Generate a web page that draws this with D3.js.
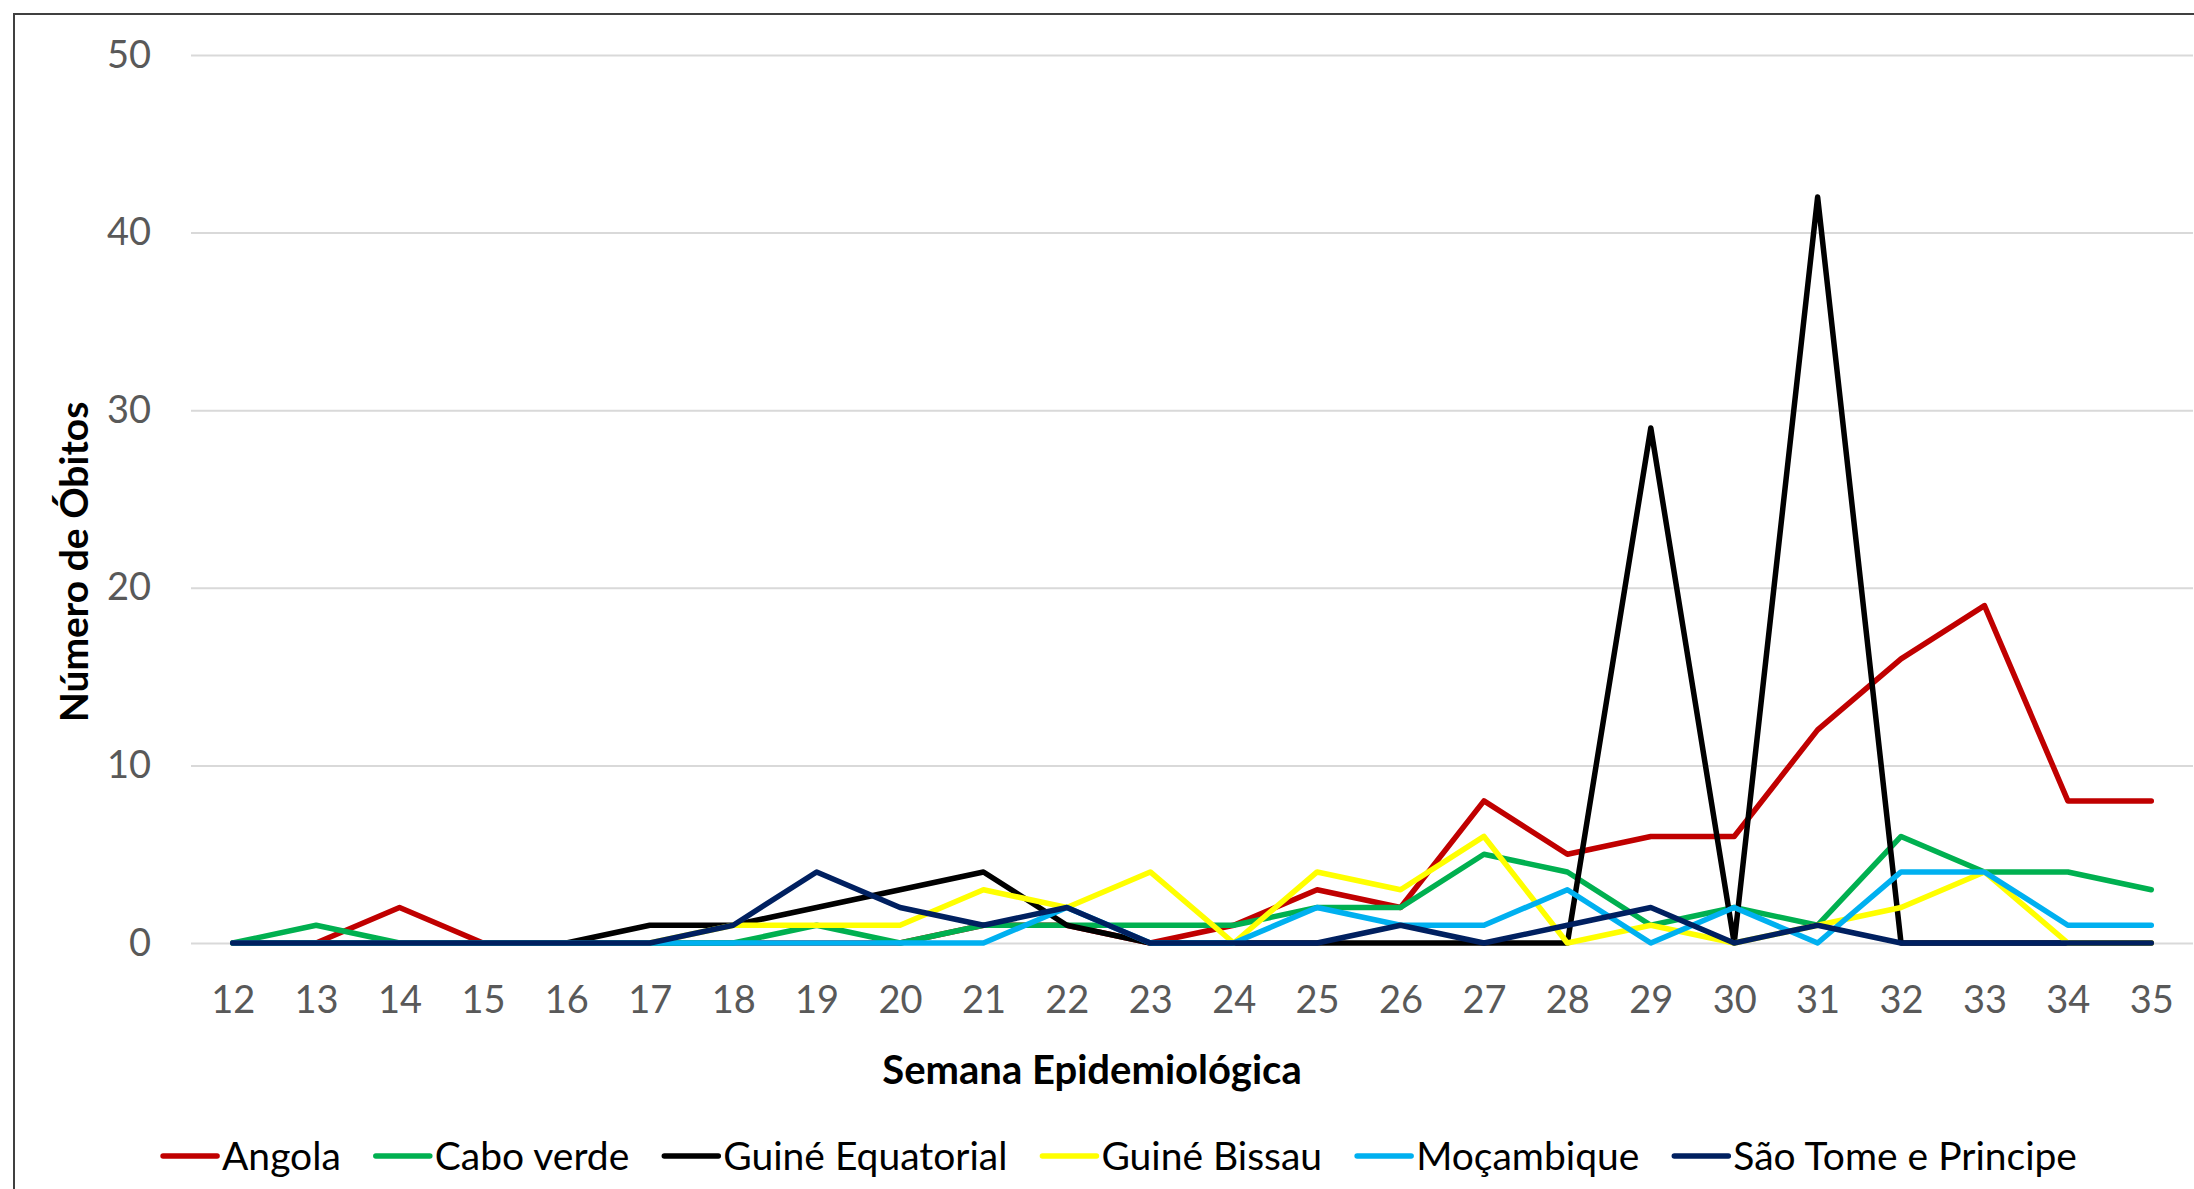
<!DOCTYPE html>
<html>
<head>
<meta charset="utf-8">
<script src="https://cdn.jsdelivr.net/npm/d3@7"></script>
<style>
  body { margin: 0; background: #fff; }
  svg, svg text { font-family: Lato, "Open Sans", sans-serif; }
</style>
</head>
<body>
<div id="chart"></div>
<script>
// data
const weeks = ['12','13','14','15','16','17','18','19','20','21','22','23','24','25','26','27','28','29','30','31','32','33','34','35'];
const angola          = [0,0,2,0,0,0,0,0,0,1,1,0,1,3,2,8,5,6,6,12,16,19,8,8];
const caboVerde       = [0,1,0,0,0,0,0,1,0,1,1,1,1,2,2,5,4,1,2,1,6,4,4,3];
const guineEquatorial = [0,0,0,0,0,1,1,2,3,4,1,0,0,0,0,0,0,29,0,42,0,0,0,0];
const guineBissau     = [0,0,0,0,0,0,1,1,1,3,2,4,0,4,3,6,0,1,0,1,2,4,0,0];
const mocambique      = [0,0,0,0,0,0,0,0,0,0,2,0,0,2,1,1,3,0,2,0,4,4,1,1];
const saoTome         = [0,0,0,0,0,0,1,4,2,1,2,0,0,0,1,0,1,2,0,1,0,0,0,0];
const seriesNames = ['Angola','Cabo verde','Guiné Equatorial','Guiné Bissau','Moçambique','São Tome e Principe'];
const seriesValues = [angola, caboVerde, guineEquatorial, guineBissau, mocambique, saoTome];
const colors = ['#C00000','#00B050','#000000','#FFFF00','#00B0F0','#002060'];
const yTicks = [0,10,20,30,40,50];

class LineChart {
    width; height; margin;
    svg; plot;
    scaleX; scaleY;

    constructor(container, width, height, margin){
        this.width = width;
        this.height = height;
        this.margin = margin; // [top, bottom, left, right]
        this.svg = d3.select(container).append('svg')
            .attr('width', width)
            .attr('height', height);
        // chart frame, runs off the right and bottom edge
        this.svg.append('rect')
            .attr('x', 14).attr('y', 14)
            .attr('width', width + 20).attr('height', height + 20)
            .attr('fill', 'none')
            .attr('stroke', '#404040')
            .attr('stroke-width', 2);
        this.plot = this.svg.append('g');
    }

    #updateScales(){
        this.scaleX = d3.scalePoint(weeks, [this.margin[2], this.width - this.margin[3]]).padding(0.5);
        this.scaleY = d3.scaleLinear([0, 50], [this.height - this.margin[1], this.margin[0]]);
    }

    #updateAxes(){
        let left = this.margin[2], right = this.width - this.margin[3];
        let axisY = d3.axisLeft(this.scaleY).tickValues(yTicks).tickSize(-(right - left)).tickPadding(40);
        let gy = this.svg.append('g')
            .attr('transform', `translate(${left},0)`)
            .call(axisY)
            .attr('font-family', null);
        gy.select('.domain').remove();
        gy.selectAll('.tick line').attr('stroke', '#D9D9D9').attr('stroke-width', 2);
        gy.selectAll('.tick text')
            .attr('fill', '#595959')
            .style('font-size', '38px');

        let axisX = d3.axisBottom(this.scaleX).tickSize(0);
        let gx = this.svg.append('g')
            .attr('transform', `translate(0,${this.scaleY(0)})`)
            .call(axisX)
            .attr('font-family', null);
        gx.select('.domain').remove();
        gx.selectAll('.tick text')
            .attr('fill', '#595959')
            .attr('dy', '0.35em')
            .attr('y', 57)
            .style('font-size', '38px');
        // push gridlines under the lines
        this.plot.raise();
    }

    #updateLines(){
        let line = d3.line()
            .x((d, i) => this.scaleX(weeks[i]))
            .y(d => this.scaleY(d));
        this.plot.selectAll('path.series')
            .data(seriesValues)
            .join('path')
            .classed('series', true)
            .attr('d', line)
            .attr('fill', 'none')
            .attr('stroke', (d, i) => colors[i])
            .attr('stroke-width', 5.5)
            .attr('stroke-linejoin', 'round')
            .attr('stroke-linecap', 'round');
    }

    #updateLegend(){
        let g = this.svg.append('g');
        let x = 0;
        seriesNames.forEach((name, i) => {
            g.append('line')
                .attr('x1', x).attr('x2', x + 54)
                .attr('y1', 0).attr('y2', 0)
                .attr('stroke', colors[i])
                .attr('stroke-width', 5.5)
                .attr('stroke-linecap', 'round');
            let t = g.append('text')
                .attr('x', x + 59).attr('y', 0)
                .attr('dy', '0.35em')
                .style('font-size', '39px')
                .attr('fill', '#000')
                .text(name);
            x += 59 + t.node().getComputedTextLength() + 35;
        });
        let total = x - 35;
        g.attr('transform', `translate(${1120 - total / 2},1156)`);
    }

    render(){
        this.#updateScales();
        this.#updateAxes();
        this.#updateLines();
        this.#updateLegend();
        return this;
    }

    setLabels(labelX, labelY){
        this.svg.append('text')
            .attr('x', 1092).attr('y', 1070)
            .attr('dy', '0.35em')
            .attr('text-anchor', 'middle')
            .style('font-size', '40px').style('font-weight', 'bold')
            .text(labelX);
        this.svg.append('text')
            .attr('transform', 'translate(74,562) rotate(-90)')
            .attr('dy', '0.35em')
            .attr('text-anchor', 'middle')
            .style('font-size', '39px').style('font-weight', 'bold')
            .text(labelY);
        return this;
    }
}

new LineChart('#chart', 2194, 1189, [55, 246, 191, 1])
    .render()
    .setLabels('Semana Epidemiológica', 'Número de Óbitos');
</script>
</body>
</html>
